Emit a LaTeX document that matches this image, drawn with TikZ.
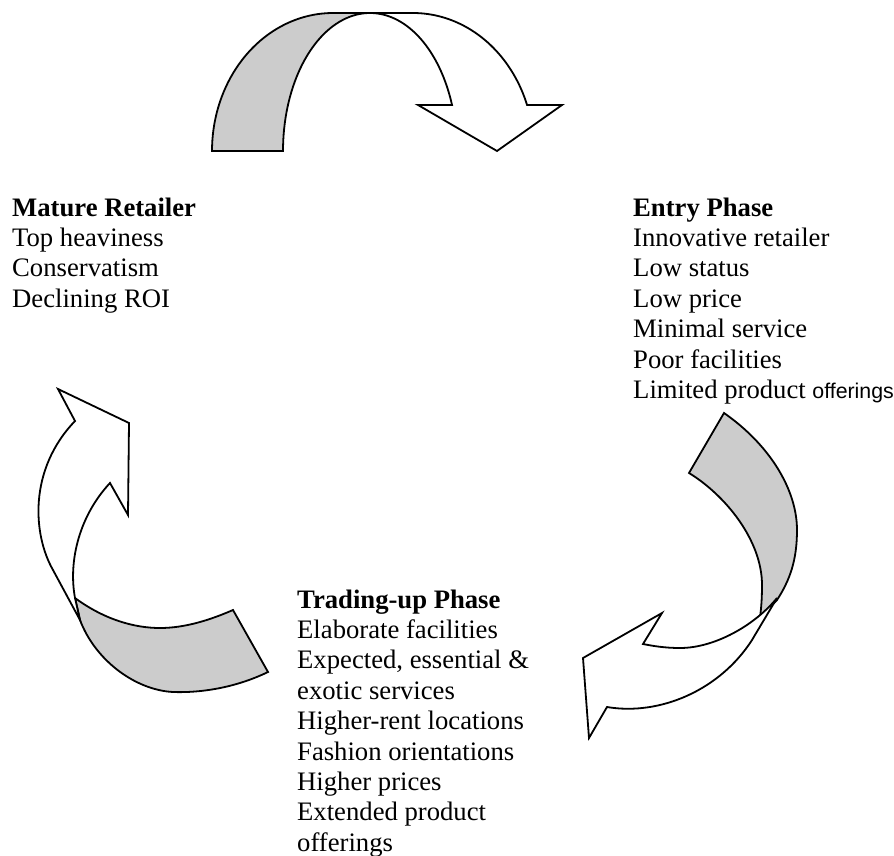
\documentclass[tikz,border=0pt]{standalone}
\usepackage{fontspec}
\setmainfont{Liberation Serif}
\newfontfamily\arialf{Liberation Sans}
\begin{document}
\begin{tikzpicture}[x=1pt,y=-1pt,
  band/.style={draw=black,line width=1.8pt,fill=black!20},
  front/.style={draw=black,line width=1.8pt,fill=white},
  txt/.style={anchor=base west,inner sep=0pt,font=\fontsize{26.67}{30.4}\selectfont}]
\useasboundingbox (0,0) rectangle (894,856);
% ---- top arrow ----
\draw[band] plot[domain=180:90,samples=40] ({333+121*cos(\x)},{151-138*sin(\x)})
  -- plot[domain=90:180,samples=40] ({370+87*cos(\x)},{151-138*sin(\x)}) -- cycle;
\draw[front] (370,13) -- plot[domain=90:19.47,samples=40] ({413+121*cos(\x)},{151-138*sin(\x)})
  -- (562,105) -- (497,151) -- (418,105)
  -- plot[domain=19.47:90,samples=40] ({370+87*cos(\x)},{151-138*sin(\x)}) -- cycle;
% ---- right arrow ----
\draw[band] (724,413) .. controls (770,445) and (797,490) .. (797,530)
  .. controls (797,560) and (790,580) .. (777,600) -- (760,617)
  .. controls (761,610) and (762,600) .. (762,585)
  .. controls (762,540) and (725,495) .. (689,473) -- cycle;
\draw[front] (777,598) .. controls (755,625) and (715,648) .. (680,648)
  .. controls (665,648) and (653,646) .. (643,644)
  -- (662,613) -- (583,658) -- (589,738) -- (607,707)
  .. controls (660,716) and (720,690) .. (752,640) -- cycle;
% ---- left arrow ----
\draw[band] (75,598) .. controls (105,620) and (135,628) .. (160,628)
  .. controls (185,628) and (210,620) .. (233,610) -- (268,672)
  .. controls (235,688) and (200,693) .. (173,692)
  .. controls (135,690) and (95,660) .. (80,620) -- cycle;
\draw[front] (80,620) -- (53,570) .. controls (33,535) and (28,470) .. (75,421)
  -- (58,389) -- (129,423) -- (128,515) -- (110,483)
  .. controls (80,515) and (68,560) .. (75,598) -- cycle;
% ---- texts ----
\node[txt] (mature) at (12,216) {\begin{tabular}[t]{@{}l@{}}\textbf{Mature Retailer}\\Top heaviness\\Conservatism\\Declining ROI\end{tabular}};
\node[txt] (entry) at (633,216) {\begin{tabular}[t]{@{}l@{}}\textbf{Entry Phase}\\Innovative retailer\\Low status\\Low price\\Minimal service\\Poor facilities\\Limited product {\arialf\fontsize{21.33}{30.4}\selectfont offerings}\end{tabular}};
\node[txt] (trading) at (297,608) {\begin{tabular}[t]{@{}l@{}}\textbf{Trading-up Phase}\\Elaborate facilities\\Expected, essential \&\\exotic services\\Higher-rent locations\\Fashion orientations\\Higher prices\\Extended product\\offerings\end{tabular}};
\end{tikzpicture}
\end{document}
